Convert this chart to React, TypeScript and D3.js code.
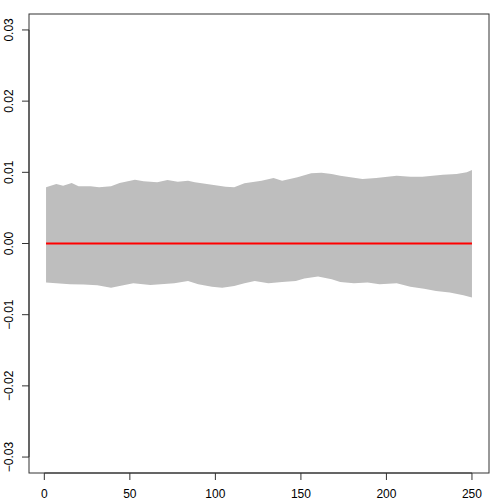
import React from 'react';
import * as d3 from 'd3';

// upper edge of the grey band (x, value)
const upperX = [1, 7, 11, 16, 20, 27, 32, 39, 44, 53, 58, 66, 72, 78, 84, 88, 98, 106, 111, 117, 127, 134, 139, 148, 156, 162, 168, 173, 179, 186, 194, 206, 214, 221, 233, 241, 247, 250];
const upperY = [0.00789, 0.00835, 0.00811, 0.00849, 0.00803, 0.00803, 0.00789, 0.00803, 0.00849, 0.00896, 0.00873, 0.00859, 0.00892, 0.00868, 0.00882, 0.00859, 0.00825, 0.00797, 0.00789, 0.00845, 0.00882, 0.0092, 0.00882, 0.0093, 0.00986, 0.00994, 0.00976, 0.00952, 0.0093, 0.00906, 0.0092, 0.00952, 0.00938, 0.00938, 0.00966, 0.00976, 0.01, 0.01032];

// lower edge of the grey band (x, value)
const lowerX = [1, 7, 15, 23, 31, 39, 44, 52, 62, 68, 76, 84, 90, 98, 104, 111, 117, 123, 131, 139, 147, 152, 160, 168, 173, 181, 189, 196, 206, 214, 222, 229, 237, 245, 250];
const lowerY = [-0.00549, -0.00559, -0.00573, -0.00577, -0.00587, -0.0062, -0.00597, -0.00559, -0.00583, -0.00573, -0.00559, -0.00527, -0.00573, -0.00606, -0.0062, -0.00597, -0.00559, -0.00527, -0.00559, -0.00541, -0.00527, -0.00493, -0.00465, -0.00503, -0.00541, -0.00559, -0.00549, -0.00573, -0.00559, -0.00606, -0.00634, -0.00668, -0.0069, -0.00728, -0.0076];

// red reference line
const lineX = [1, 250];
const lineY = [0, 0];

const xTicks = [0, 50, 100, 150, 200, 250];
const yTicks = [-0.03, -0.02, -0.01, 0, 0.01, 0.02, 0.03];

const W = 504;
const H = 504;
const margin = { top: 14, right: 15, bottom: 31, left: 29 };
const font = '"Liberation Sans", Arial, Helvetica, sans-serif';

export default function App() {
  const x = d3.scaleLinear()
    .domain([1 - 249 * 0.04, 250 + 249 * 0.04])
    .range([margin.left, W - margin.right]);
  const y = d3.scaleLinear()
    .domain([-0.03224, 0.03224])
    .range([H - margin.bottom, margin.top]);

  const pts: [number, number][] = [
    ...upperX.map((d, i) => [d, upperY[i]] as [number, number]),
    ...lowerX.map((d, i) => [d, lowerY[i]] as [number, number]).reverse(),
  ];
  const band = d3.line<[number, number]>()
    .x(d => x(d[0]))
    .y(d => y(d[1]))(pts) + 'Z';

  const redLine = d3.line<number>()
    .x(d => x(lineX[d]))
    .y(d => y(lineY[d]))(lineX.map((_, i) => i));

  const bottom = H - margin.bottom;
  const left = margin.left;

  return (
    <svg width={W} height={H} style={{ position: 'absolute', left: 0, top: 0, background: '#fff' }}>
      <path d={band as string} fill="#bebebe" stroke="none" />
      <path d={redLine as string} fill="none" stroke="#ff0000" strokeWidth={2} />
      <rect x={left} y={margin.top} width={W - margin.left - margin.right} height={H - margin.top - margin.bottom}
        fill="none" stroke="#333" strokeWidth={1} />
      {/* x axis */}
      <line x1={x(xTicks[0])} x2={x(xTicks[xTicks.length - 1])} y1={bottom} y2={bottom} stroke="#333" />
      {xTicks.map(t => (
        <g key={t}>
          <line x1={x(t)} x2={x(t)} y1={bottom} y2={bottom + 7} stroke="#333" />
          <text x={x(t)} y={bottom + 25} textAnchor="middle" fontFamily={font} fontSize={12} fill="#000">{t}</text>
        </g>
      ))}
      {/* y axis */}
      <line x1={left} x2={left} y1={y(yTicks[0])} y2={y(yTicks[yTicks.length - 1])} stroke="#333" />
      {yTicks.map(t => (
        <g key={t}>
          <line x1={left} x2={left - 7} y1={y(t)} y2={y(t)} stroke="#333" />
          <text transform={`translate(${left - 16},${y(t)}) rotate(-90)`} textAnchor="middle" fontFamily={font}
            fontSize={12} fill="#000">{t < 0 ? '\u2212' + Math.abs(t).toFixed(2) : t.toFixed(2)}</text>
        </g>
      ))}
    </svg>
  );
}
